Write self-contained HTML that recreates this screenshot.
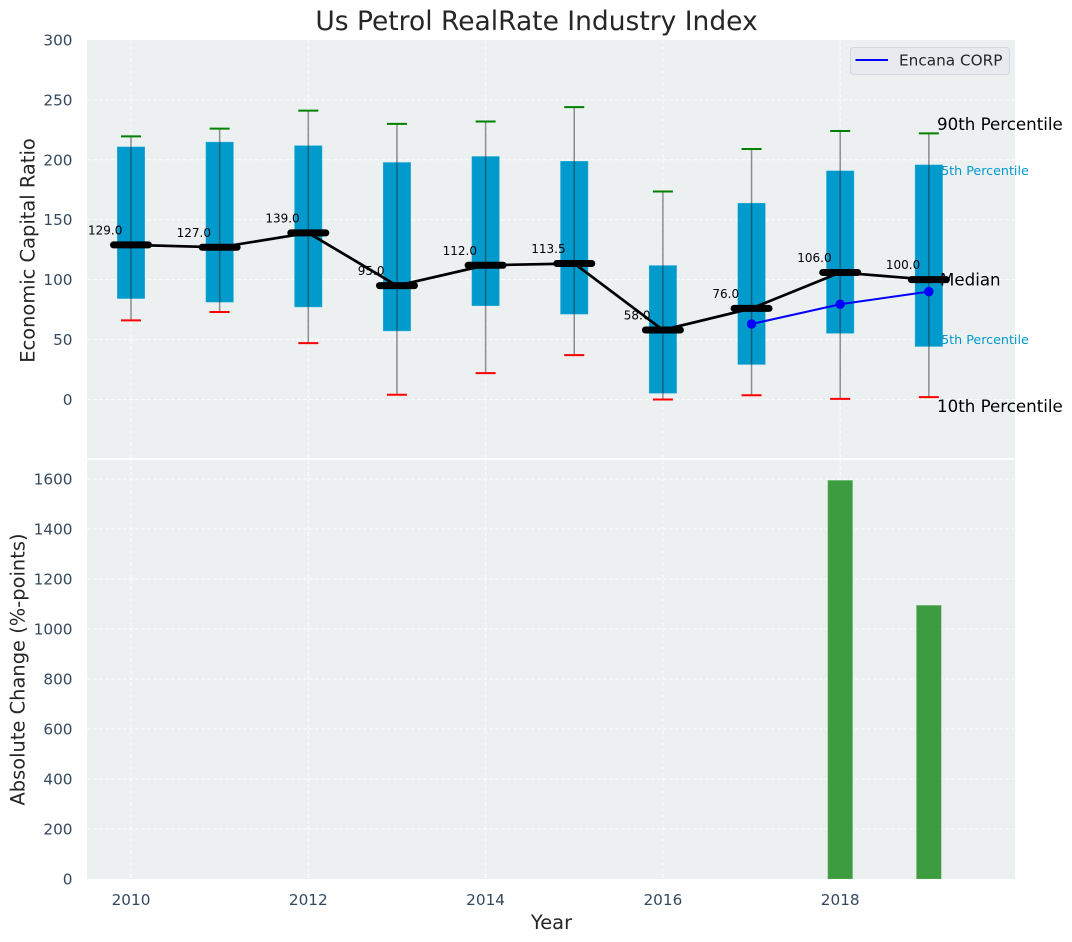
<!DOCTYPE html>
<html lang="en">
<head>
<meta charset="utf-8">
<title>Us Petrol RealRate Industry Index</title>
<style>
html,body{margin:0;padding:0;background:#fff;}
svg{display:block;font-family:"DejaVu Sans","Liberation Sans",sans-serif;}
</style>
</head>
<body>
<svg id="chart" width="1072" height="942" viewBox="0 0 1072 942" xmlns="http://www.w3.org/2000/svg">
  <rect x="87" y="40" width="928" height="418" fill="#ecf0f1"/>
  <rect x="87" y="460" width="928" height="419" fill="#ecf0f1"/>
  <g id="grid"></g>
  <g id="bars"></g>
  <g id="boxes"></g>
  <g id="lines"></g>
  <g id="ticks"></g>
  <text x="536.5" y="30" font-size="26.5" fill="#262626" text-anchor="middle">Us Petrol RealRate Industry Index</text>
  <text transform="translate(34.5,250.5) rotate(-90)" font-size="19.44" fill="#262626" text-anchor="middle">Economic Capital Ratio</text>
  <text transform="translate(24.5,669.5) rotate(-90)" font-size="19.44" fill="#262626" text-anchor="middle">Absolute Change (%-points)</text>
  <text x="551.5" y="929" font-size="19.44" fill="#262626" text-anchor="middle">Year</text>
  <g id="annotations">
    <text x="937" y="130" font-size="16.67" fill="#000">90th Percentile</text>
    <text x="933" y="175" font-size="12.7" fill="#009acd">75th Percentile</text>
    <text x="940" y="285.5" font-size="16.67" fill="#000">Median</text>
    <text x="933" y="344" font-size="12.7" fill="#009acd">25th Percentile</text>
    <text x="937" y="412" font-size="16.67" fill="#000">10th Percentile</text>
  </g>
  <g>
    <rect x="850.5" y="47.5" width="159" height="27" rx="3" fill="#e8eaf0" stroke="#d3d6da" stroke-width="1"/>
    <line x1="855.5" y1="60" x2="888" y2="60" stroke="#0000ff" stroke-width="2"/>
    <text x="899" y="65.5" font-size="15.28" fill="#262626">Encana CORP</text>
  </g>
</svg>
<script>
const years = [2010, 2011, 2012, 2013, 2014, 2015, 2016, 2017, 2018, 2019];
const p10 = [66, 73, 47, 4, 22, 37, 0, 3.5, 0.5, 2];
const p25 = [84, 81, 77, 57, 78, 71, 5, 29, 55, 44];
const medians = [129, 127, 139, 95, 112, 113.5, 58, 76, 106, 100];
const p75 = [211, 215, 212, 198, 203, 199, 112, 164, 191, 196];
const p90 = [219.5, 226, 241, 230, 232, 244, 173.5, 209, 224, 222];
const encanaYears = [2017, 2018, 2019];
const encanaValues = [63, 79.5, 90];
const changeYears = [2018, 2019];
const changeValues = [1595, 1095];
const xTicks = [2010, 2012, 2014, 2016, 2018];
const topTicks = [0, 50, 100, 150, 200, 250, 300];
const bottomTicks = [0, 200, 400, 600, 800, 1000, 1200, 1400, 1600];

const NS = 'http://www.w3.org/2000/svg';
const xScale = v => 131 + (v - 2010) * 88.65;
const yTop = v => 399.5 - v * 1.1985;
const yBottom = v => 879 - v * 0.25;

function make(parent, tag, props) {
  const el = document.createElementNS(NS, tag);
  for (const k in props) el.setAttribute(k, props[k]);
  parent.appendChild(el);
  return el;
}
const gridG = document.getElementById('grid');
const barsG = document.getElementById('bars');
const boxesG = document.getElementById('boxes');
const linesG = document.getElementById('lines');
const ticksG = document.getElementById('ticks');
const dash = {stroke: 'rgba(255,255,255,0.85)', 'stroke-width': 1, 'stroke-dasharray': '4 2'};
const tickFont = 15.28;

xTicks.forEach(t => {
  const x = xScale(t);
  const a = make(gridG, 'line', {x1: x, x2: x, y1: 40, y2: 458, ...dash});
  
  
  const b = make(gridG, 'line', {x1: x, x2: x, y1: 460, y2: 879, ...dash});
  
  
  const l = make(ticksG, 'text', {x: x, y: 905, 'font-size': tickFont, fill: '#34495e', 'text-anchor': 'middle'});
  
  
  l.textContent = t;
});
topTicks.forEach(t => {
  const y = yTop(t);
  if (t < 300) {
    const g = make(gridG, 'line', {x1: 87, x2: 1015, y1: y, y2: y, ...dash});
    
    
  }
  const l = make(ticksG, 'text', {x: 72.5, y: y + 5.5, 'font-size': tickFont, fill: '#34495e', 'text-anchor': 'end'});
  
  
  l.textContent = t;
});
bottomTicks.forEach(t => {
  const y = yBottom(t);
  if (t > 0) {
    const g = make(gridG, 'line', {x1: 87, x2: 1015, y1: y, y2: y, ...dash});
    
    
  }
  const l = make(ticksG, 'text', {x: 72.5, y: y + 5.5, 'font-size': tickFont, fill: '#34495e', 'text-anchor': 'end'});
  
  
  l.textContent = t;
});

changeValues.forEach((v, i) => {
  const x = xScale(changeYears[i]);
  const r = make(barsG, 'rect', {x: x - 12.5, y: yBottom(v), width: 25, height: yBottom(0) - yBottom(v), fill: '#3c9c3f', stroke: 'rgba(255,255,255,0.12)', 'stroke-width': 1});
  
  
});

years.forEach((yr, i) => {
  const x = xScale(yr);
  const box = make(boxesG, 'rect', {x: x - 14, y: yTop(p75[i]), width: 28, height: yTop(p25[i]) - yTop(p75[i]), fill: '#009acd', stroke: 'rgba(255,255,255,0.25)', 'stroke-width': 1});
  
  
  const w = make(boxesG, 'line', {x1: x, x2: x, y1: yTop(p90[i]), y2: yTop(p10[i]), stroke: 'rgba(40,40,40,0.5)', 'stroke-width': 1.5});
  
  
  const capHi = make(boxesG, 'line', {x1: x - 10, x2: x + 10, y1: yTop(p90[i]), y2: yTop(p90[i]), stroke: '#008000', 'stroke-width': 2});
  
  
  const capLo = make(boxesG, 'line', {x1: x - 10, x2: x + 10, y1: yTop(p10[i]), y2: yTop(p10[i]), stroke: '#ff0000', 'stroke-width': 2});
  
  
});

const medianLine = make(linesG, 'polyline', {points: years.map((y, i) => xScale(y) + ',' + yTop(medians[i])).join(' '), fill: 'none', stroke: '#000', 'stroke-width': 2.7});


years.forEach((yr, i) => {
  const x = xScale(yr), y = yTop(medians[i]);
  const m = make(linesG, 'line', {x1: x - 17.5, x2: x + 17.5, y1: y, y2: y, stroke: '#000', 'stroke-width': 7, 'stroke-linecap': 'round'});
  
  
  const t = make(linesG, 'text', {x: x - 25.8, y: y - 10.5, 'font-size': 12, fill: '#000', 'text-anchor': 'middle'});
  
  
  t.textContent = medians[i].toFixed(1);
});
const encanaLine = make(linesG, 'polyline', {points: encanaYears.map((y, i) => xScale(y) + ',' + yTop(encanaValues[i])).join(' '), fill: 'none', stroke: '#0000ff', 'stroke-width': 2});


encanaValues.forEach((v, i) => {
  const c = make(linesG, 'circle', {cx: xScale(encanaYears[i]), cy: yTop(v), r: 4.7, fill: '#0000ff'});
  
  
});
</script>
</body>
</html>
